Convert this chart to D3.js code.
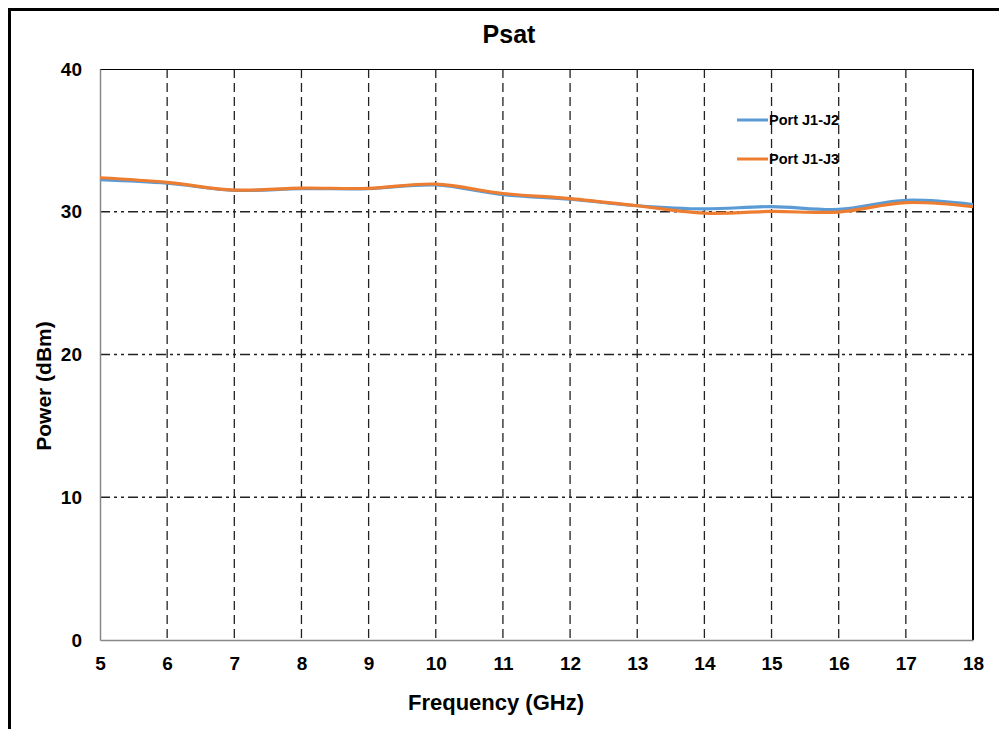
<!DOCTYPE html>
<html>
<head>
<meta charset="utf-8">
<script src="https://cdn.jsdelivr.net/npm/d3@7"></script>
<style>
  body { margin: 0; background: #fff; }
  svg { display: block; font-family: "Liberation Sans", Arial, sans-serif; }
</style>
</head>
<body>
<svg id="chart"></svg>
<script>
const freqs = [5, 6, 7, 8, 9, 10, 11, 12, 13, 14, 15, 16, 17, 18];
const portJ1J2 = [32.25, 32.0, 31.5, 31.62, 31.62, 31.88, 31.2, 30.88, 30.42, 30.2, 30.36, 30.16, 30.8, 30.5];
const portJ1J3 = [32.38, 32.06, 31.52, 31.66, 31.64, 31.94, 31.28, 30.92, 30.42, 29.9, 30.02, 29.98, 30.64, 30.36];
const yTicks = [0, 10, 20, 30, 40];
const seriesNames = ['Port J1-J2', 'Port J1-J3'];
const colors = ['#5B9BD5', '#ED7D31'];

const width = 999;
const height = 729;
const margin = { top: 69, right: 26, bottom: 89, left: 100 };
const innerWidth = width - margin.left - margin.right;
const innerHeight = height - margin.top - margin.bottom;

const svg = d3.select('#chart')
  .attr('width', width)
  .attr('height', height);

// outer chart frame: only left and top edges are in the picture
svg.append('path')
  .attr('d', `M9.5,${height} V9.5 H${width}`)
  .attr('fill', 'none')
  .attr('stroke', '#000')
  .attr('stroke-width', 3);

const xScale = d3.scaleLinear().domain([5, 18]).range([0, innerWidth]);
const yScale = d3.scaleLinear().domain([0, 40]).range([innerHeight, 0]);

const g = svg.append('g')
  .attr('transform', `translate(${margin.left}, ${margin.top})`);

// vertical grid, dashed
g.append('g')
  .selectAll('line')
  .data(freqs.slice(1, -1))
  .enter().append('line')
    .attr('x1', d => xScale(d)).attr('x2', d => xScale(d))
    .attr('y1', 0).attr('y2', innerHeight)
    .attr('stroke', '#222')
    .attr('stroke-width', 1.3)
    .attr('stroke-dasharray', '9,5');

// horizontal grid, dash-dot-dot
g.append('g')
  .selectAll('line')
  .data(yTicks.slice(1, -1))
  .enter().append('line')
    .attr('x1', 0).attr('x2', innerWidth)
    .attr('y1', d => yScale(d)).attr('y2', d => yScale(d))
    .attr('stroke', '#222')
    .attr('stroke-width', 1.3)
    .attr('stroke-dasharray', '10,4,3,4,3,4');

// plot borders
g.append('line')
  .attr('x1', 0).attr('x2', innerWidth).attr('y1', 0.5).attr('y2', 0.5)
  .attr('stroke', '#000').attr('stroke-width', 1.2);
g.append('line')
  .attr('x1', innerWidth).attr('x2', innerWidth).attr('y1', 0).attr('y2', innerHeight)
  .attr('stroke', '#000').attr('stroke-width', 2);

// axes
const xAxis = g.append('g')
  .attr('transform', `translate(0, ${innerHeight})`)
  .call(d3.axisBottom(xScale).tickValues(freqs).tickFormat(d3.format('d')).tickSize(0).tickPadding(17));
const yAxis = g.append('g')
  .call(d3.axisLeft(yScale).tickValues(yTicks).tickSize(0).tickPadding(18));

[xAxis, yAxis].forEach(a => {
  a.select('.domain').attr('stroke', '#888').attr('stroke-width', 1.5);
  a.selectAll('text')
    .attr('font-size', 19)
    .attr('font-weight', 'bold')
    .attr('fill', '#000')
    .attr('font-family', '"Liberation Sans", Arial, sans-serif');
});

// series
const line = d3.line()
  .x(d => xScale(d[0]))
  .y(d => yScale(d[1]))
  .curve(d3.curveCatmullRom.alpha(0.5));

[portJ1J2, portJ1J3].forEach((vals, i) => {
  g.append('path')
    .datum(freqs.map((f, k) => [f, vals[k]]))
    .attr('fill', 'none')
    .attr('stroke', colors[i])
    .attr('stroke-width', 3.2)
    .attr('d', line);
});

// legend
const legend = g.append('g');
seriesNames.forEach((name, i) => {
  const ly = 51 + i * 39;
  legend.append('line')
    .attr('x1', 637).attr('x2', 668)
    .attr('y1', ly).attr('y2', ly)
    .attr('stroke', colors[i])
    .attr('stroke-width', 3);
  legend.append('text')
    .attr('x', 669).attr('y', ly)
    .attr('dy', '0.35em')
    .attr('font-size', 14.5)
    .attr('font-weight', 'bold')
    .text(name);
});

// titles
svg.append('text')
  .attr('x', 509).attr('y', 43)
  .attr('text-anchor', 'middle')
  .attr('font-size', 25)
  .attr('font-weight', 'bold')
  .text('Psat');

svg.append('text')
  .attr('x', 496).attr('y', 710)
  .attr('text-anchor', 'middle')
  .attr('font-size', 22)
  .attr('font-weight', 'bold')
  .text('Frequency (GHz)');

svg.append('text')
  .attr('transform', 'translate(51, 386) rotate(-90)')
  .attr('text-anchor', 'middle')
  .attr('font-size', 21)
  .attr('font-weight', 'bold')
  .text('Power (dBm)');
</script>
</body>
</html>
